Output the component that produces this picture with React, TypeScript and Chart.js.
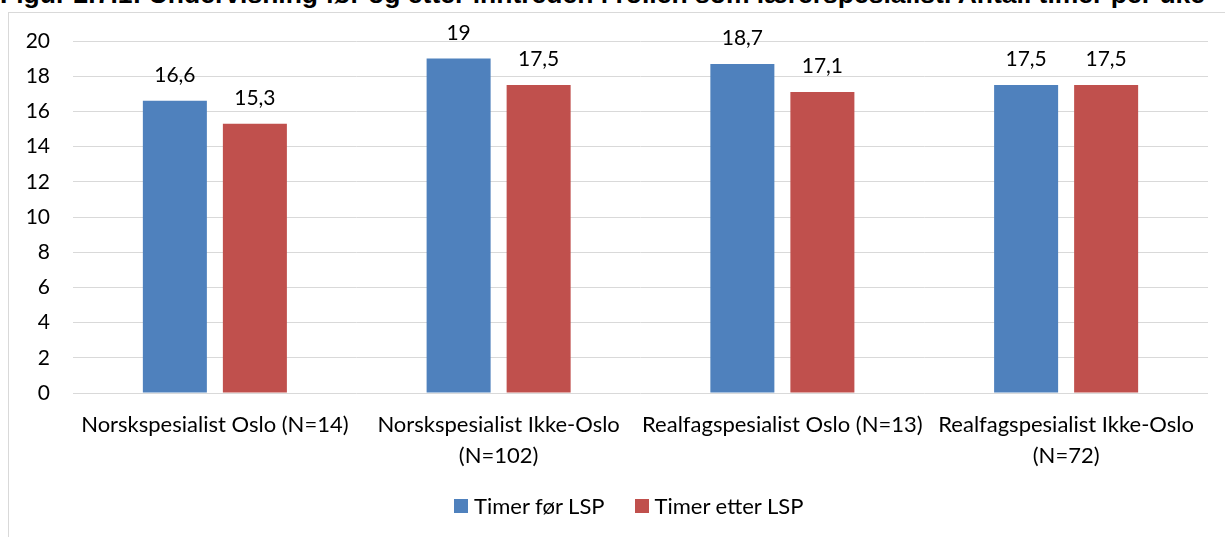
import React, { useEffect, useRef } from "react";
import { Chart, registerables } from "chart.js";

Chart.register(...registerables);

const TITLE =
  "Figur 2.7.1: Undervisning før og etter inntreden i rollen som lærerspesialist. Antall timer per uke";

const categories: string[][] = [
  ["Norskspesialist Oslo (N=14)"],
  ["Norskspesialist Ikke-Oslo", "(N=102)"],
  ["Realfagspesialist Oslo (N=13)"],
  ["Realfagspesialist Ikke-Oslo", "(N=72)"],
];
const seriesNames = ["Timer før LSP", "Timer etter LSP"];
const seriesColors = ["#4F81BD", "#C0504D"];
const timerFor = [16.6, 19, 18.7, 17.5];
const timerEtter = [15.3, 17.5, 17.1, 17.5];
const yMin = 0;
const yMax = 20;
const yStep = 2;

const FONT = "Lato";
const TEXT = "#000000";
const GRID = "#d9d9d9";

const fmt = (v: number) => String(v).replace(".", ",");

const dataLabels = {
  id: "dataLabels",
  afterDatasetsDraw(chart: any) {
    const ctx = chart.ctx;
    ctx.save();
    ctx.font = `21px ${FONT}`;
    ctx.fillStyle = TEXT;
    ctx.textAlign = "center";
    ctx.textBaseline = "alphabetic";
    chart.data.datasets.forEach((ds: any, i: number) => {
      const meta = chart.getDatasetMeta(i);
      meta.data.forEach((el: any, j: number) => {
        ctx.fillText(fmt(ds.data[j]), el.x, el.y - 19);
      });
    });
    ctx.restore();
  },
};

export default function App() {
  const ref = useRef<HTMLCanvasElement | null>(null);

  useEffect(() => {
    if (!ref.current) return;
    const chart = new Chart(ref.current, {
      type: "bar",
      data: {
        labels: categories,
        datasets: [
          {
            label: seriesNames[0],
            data: timerFor,
            backgroundColor: seriesColors[0],
            borderWidth: 0,
          },
          {
            label: seriesNames[1],
            data: timerEtter,
            backgroundColor: seriesColors[1],
            borderWidth: 0,
          },
        ],
      },
      options: {
        responsive: false,
        animation: false,
        devicePixelRatio: 1,
        layout: { padding: { top: 41, right: 17, bottom: 51, left: 0 } },
        datasets: {
          bar: { categoryPercentage: 0.564, barPercentage: 0.8 },
        } as any,
        plugins: {
          tooltip: { enabled: false },
          title: { display: false },
          legend: { display: false },
        },
        scales: {
          x: {
            grid: { display: false },
            border: { display: false },
            ticks: {
              color: TEXT,
              font: { family: FONT, size: 22, lineHeight: 1.43 },
              padding: 8,
              maxRotation: 0,
              autoSkip: false,
            },
            afterFit(scale: any) {
              scale.height = 93;
            },
          },
          y: {
            min: yMin,
            max: yMax,
            grid: { color: GRID, lineWidth: 1, drawTicks: false },
            border: { display: false },
            ticks: {
              stepSize: yStep,
              color: TEXT,
              font: { family: FONT, size: 21 },
              padding: 23,
            },
            afterFit(scale: any) {
              scale.width = 73;
            },
          },
        },
      },
      plugins: [dataLabels],
    });
    return () => chart.destroy();
  }, []);

  return (
    <div
      style={{
        position: "absolute",
        left: 0,
        top: 0,
        width: 1225,
        height: 537,
        overflow: "hidden",
        background: "#ffffff",
      }}
    >
      <div
        style={{
          position: "absolute",
          left: 8,
          top: 12,
          width: 1400,
          height: 700,
          borderTop: `1px solid ${GRID}`,
          borderLeft: `1px solid ${GRID}`,
        }}
      />
      <div
        style={{
          position: "absolute",
          left: 0,
          top: -19,
          whiteSpace: "nowrap",
          fontFamily: "'Liberation Sans', Arial, sans-serif",
          fontWeight: "bold",
          fontSize: "26.5px",
          lineHeight: "26.5px",
          color: "#000",
        }}
      >
        {TITLE}
      </div>
      <canvas
        ref={ref}
        width={1225}
        height={537}
        style={{ position: "absolute", left: 0, top: 0, display: "block" }}
      />
      <div
        style={{
          position: "absolute",
          left: 454,
          top: 493,
          height: 26,
          display: "flex",
          alignItems: "center",
          fontFamily: FONT,
          fontSize: "22px",
          lineHeight: "26px",
          color: TEXT,
          whiteSpace: "nowrap",
        }}
      >
        {seriesNames.map((name, i) => (
          <div
            key={name}
            style={{
              display: "flex",
              alignItems: "center",
              marginRight: i === 0 ? 30 : 0,
            }}
          >
            <span
              style={{
                display: "inline-block",
                width: 14,
                height: 14,
                background: seriesColors[i],
                marginRight: 6,
              }}
            />
            <span>{name}</span>
          </div>
        ))}
      </div>
    </div>
  );
}
